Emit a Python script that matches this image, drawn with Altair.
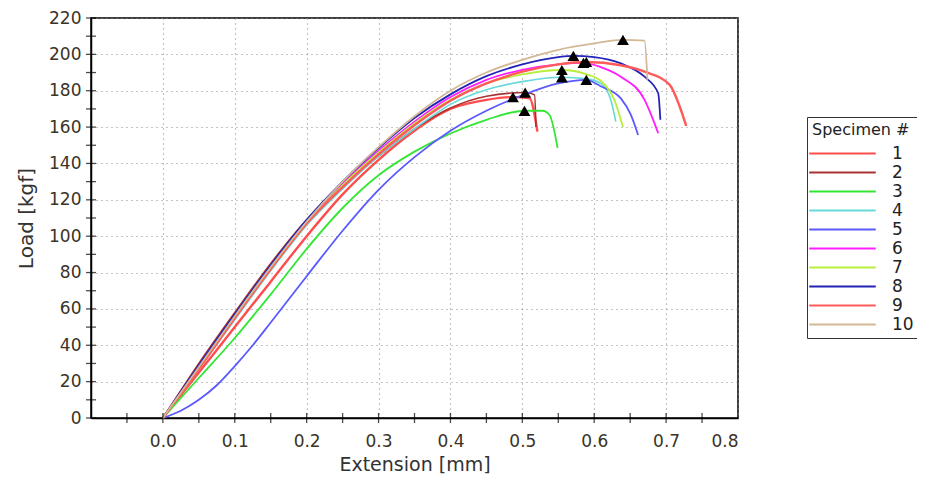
import altair as alt
import pandas as pd

specimens = ["1", "2", "3", "4", "5", "6", "7", "8", "9", "10"]
colors = ["#ff4d4d", "#a83232", "#33e633", "#66dada", "#5a5aff",
          "#ff1eff", "#b8ee3c", "#2323b8", "#ff5a5a", "#d2b894"]
widths = [2.4, 1.6, 1.8, 1.6, 1.8, 1.8, 1.8, 1.8, 2.4, 1.8]

ext_1 = [0, 0.05, 0.1, 0.15, 0.2, 0.25, 0.3, 0.35, 0.4, 0.425, 0.45, 0.487, 0.51, 0.521]
load_1 = [0, 25, 50, 75, 100, 123, 142, 158, 170, 173, 175, 176.5, 175.8, 157.5]

ext_2 = [0, 0.05, 0.1, 0.15, 0.2, 0.25, 0.3, 0.35, 0.4, 0.45, 0.504, 0.517, 0.519]
load_2 = [0, 30, 58, 85, 109, 127.5, 144, 159, 170.5, 177, 179, 177.7, 160]

ext_3 = [0, 0.05, 0.1, 0.15, 0.2, 0.25, 0.3, 0.35, 0.4, 0.45, 0.503, 0.528, 0.538, 0.549]
load_3 = [0, 22, 44, 68, 93, 115.5, 133.5, 146.5, 156.5, 164, 169, 169, 166.5, 148.6]

ext_4 = [0, 0.05, 0.1, 0.15, 0.2, 0.25, 0.3, 0.35, 0.4, 0.45, 0.5, 0.555, 0.59, 0.609, 0.623, 0.63]
load_4 = [0, 27, 54, 81, 106, 126, 144, 159, 172.5, 180.5, 185, 187.4, 186.5, 184, 175, 163]

ext_5 = [0, 0.025, 0.05, 0.075, 0.1, 0.125, 0.15, 0.2, 0.25, 0.3, 0.35, 0.4, 0.45, 0.5,
         0.55, 0.589, 0.609, 0.637, 0.651, 0.661]
load_5 = [0, 4, 10, 18, 28.5, 40, 52.5, 78, 103, 125.5, 143.5, 158, 169, 177.5,
          184, 186, 182.5, 175.8, 166.7, 155.7]

ext_6 = [0, 0.05, 0.1, 0.15, 0.2, 0.25, 0.3, 0.35, 0.4, 0.45, 0.5, 0.55, 0.585, 0.609,
         0.637, 0.67, 0.682, 0.689]
load_6 = [0, 28, 56, 83, 108, 129, 147, 163, 176.5, 186, 191.5, 194.5, 195.3, 193,
          187.7, 175, 164, 156.6]

ext_7 = [0, 0.05, 0.1, 0.15, 0.2, 0.25, 0.3, 0.35, 0.4, 0.45, 0.5, 0.555, 0.59, 0.609, 0.628, 0.64]
load_7 = [0, 27, 55, 82, 107, 128, 146, 162, 175, 184, 189, 191.4, 189, 185.5, 175, 160]

ext_8 = [0, 0.05, 0.1, 0.15, 0.2, 0.25, 0.3, 0.35, 0.4, 0.45, 0.5, 0.55, 0.571, 0.6,
         0.637, 0.67, 0.689, 0.692]
load_8 = [0, 29, 57, 84, 109, 130, 148.5, 165, 178, 188, 194.5, 198.5, 199.2, 198.5,
          195, 187.7, 178.6, 164]

ext_9 = [0, 0.05, 0.1, 0.15, 0.2, 0.25, 0.3, 0.35, 0.4, 0.45, 0.5, 0.55, 0.589, 0.637,
         0.67, 0.705, 0.719, 0.728]
load_9 = [0, 27, 55, 82, 107, 127, 145, 161, 174.5, 184, 190.5, 194.5, 195.8, 194,
          190.5, 183.2, 171.2, 160.6]

ext_10 = [0, 0.05, 0.1, 0.15, 0.2, 0.25, 0.3, 0.35, 0.4, 0.45, 0.5, 0.55, 0.6, 0.64, 0.67, 0.674]
load_10 = [0, 28, 56, 83, 108, 130, 149, 166, 180, 190, 197, 202.5, 206, 208, 207.5, 186]

peak_ext = [0.487, 0.504, 0.503, 0.555, 0.589, 0.585, 0.555, 0.571, 0.589, 0.64]
peak_load = [176.5, 179, 168.9, 187.4, 186, 195.3, 191.4, 199.2, 195.8, 208]

x_label_values = [0.0, 0.1, 0.2, 0.3, 0.4, 0.5, 0.6, 0.7, 0.8]
y_label_values = [0, 20, 40, 60, 80, 100, 120, 140, 160, 180, 200, 220]
x_tick_values = [-0.05, 0.0, 0.05, 0.1, 0.15, 0.2, 0.25, 0.3, 0.35, 0.4, 0.45,
                 0.5, 0.55, 0.6, 0.65, 0.7, 0.75]
y_tick_values = [0, 10, 20, 30, 40, 50, 60, 70, 80, 90, 100, 110, 120, 130, 140,
                 150, 160, 170, 180, 190, 200, 210, 220]

curves = {
    "1": (ext_1, load_1), "2": (ext_2, load_2), "3": (ext_3, load_3),
    "4": (ext_4, load_4), "5": (ext_5, load_5), "6": (ext_6, load_6),
    "7": (ext_7, load_7), "8": (ext_8, load_8), "9": (ext_9, load_9),
    "10": (ext_10, load_10),
}

rows = []
for s, w in zip(specimens, widths):
    ex, ld = curves[s]
    for i, (a, b) in enumerate(zip(ex, ld)):
        rows.append({"spec": s, "ext": a, "load": b, "idx": i, "w": w})
df = pd.DataFrame(rows)

pk = pd.DataFrame({"ext": peak_ext, "load": peak_load, "spec": specimens})
xt = pd.DataFrame({"ext": x_tick_values, "load": [0] * len(x_tick_values)})
yt = pd.DataFrame({"ext": [-0.1] * len(y_tick_values), "load": y_tick_values})

FONT = "DejaVu Sans"
LABEL_COLOR = "#3b3326"

xscale = alt.Scale(domain=[-0.1, 0.8], nice=False, zero=False)
yscale = alt.Scale(domain=[0, 220], nice=False, zero=False)
xaxis = alt.Axis(values=x_label_values, format=".1f", title="Extension [mm]",
                 labelPadding=15, titlePadding=6, titleFontSize=19)
yaxis = alt.Axis(values=y_label_values, title="Load [kgf]",
                 labelPadding=10, titlePadding=12)


def xenc():
    return alt.X("ext:Q", scale=xscale, axis=xaxis)


def yenc():
    return alt.Y("load:Q", scale=yscale, axis=yaxis)


lines = alt.Chart(df).mark_line(interpolate="monotone").encode(
    x=xenc(),
    y=yenc(),
    color=alt.Color("spec:N", scale=alt.Scale(domain=specimens, range=colors),
                    legend=alt.Legend(
                        title="Specimen #", orient="none", legendX=716, legendY=99,
                        symbolType="M-4.75,0H4.75", symbolSize=196, symbolStrokeWidth=2,
                        symbolOffset=22, labelOffset=41, padding=5,
                        strokeColor="#333333", fillColor="white",
                        titleFont=FONT, titleFontSize=16, titleFontWeight="normal",
                        titleColor="#222222", titlePadding=7,
                        labelFont=FONT, labelFontSize=17, labelColor="#222222",
                        rowPadding=1)),
    strokeWidth=alt.StrokeWidth("w:Q", scale=None, legend=None),
    order=alt.Order("idx:Q"),
)

peaks = alt.Chart(pk).mark_point(shape="triangle-up", filled=True, color="black",
                                 size=140, opacity=1).encode(x=xenc(), y=yenc())

xticks = alt.Chart(xt).mark_tick(orient="vertical", size=10, thickness=1.3,
                                 color="black").encode(x=xenc(), y=yenc())

yticks = alt.Chart(yt).mark_tick(orient="horizontal", size=10, thickness=1.3,
                                 color="black").encode(x=xenc(), y=yenc())

chart = alt.layer(lines, peaks, xticks, yticks).properties(
    width=647, height=400,
    padding={"left": 83, "top": 10, "right": 179, "bottom": 59},
    autosize=alt.AutoSizeParams(type="none"),
).configure_view(
    stroke="black", strokeWidth=1.5
).configure_axis(
    labelFont=FONT, labelFontSize=17, labelColor=LABEL_COLOR,
    titleFont=FONT, titleFontSize=20, titleFontWeight="normal", titleColor="#333333",
    ticks=False, tickSize=0, domainColor="black", domainWidth=1.5,
    grid=True, gridColor="#8a8a8a", gridDash=[1, 4], gridWidth=1.2,
)

chart.save("out.html", embed_options={"renderer": "svg", "actions": False})
